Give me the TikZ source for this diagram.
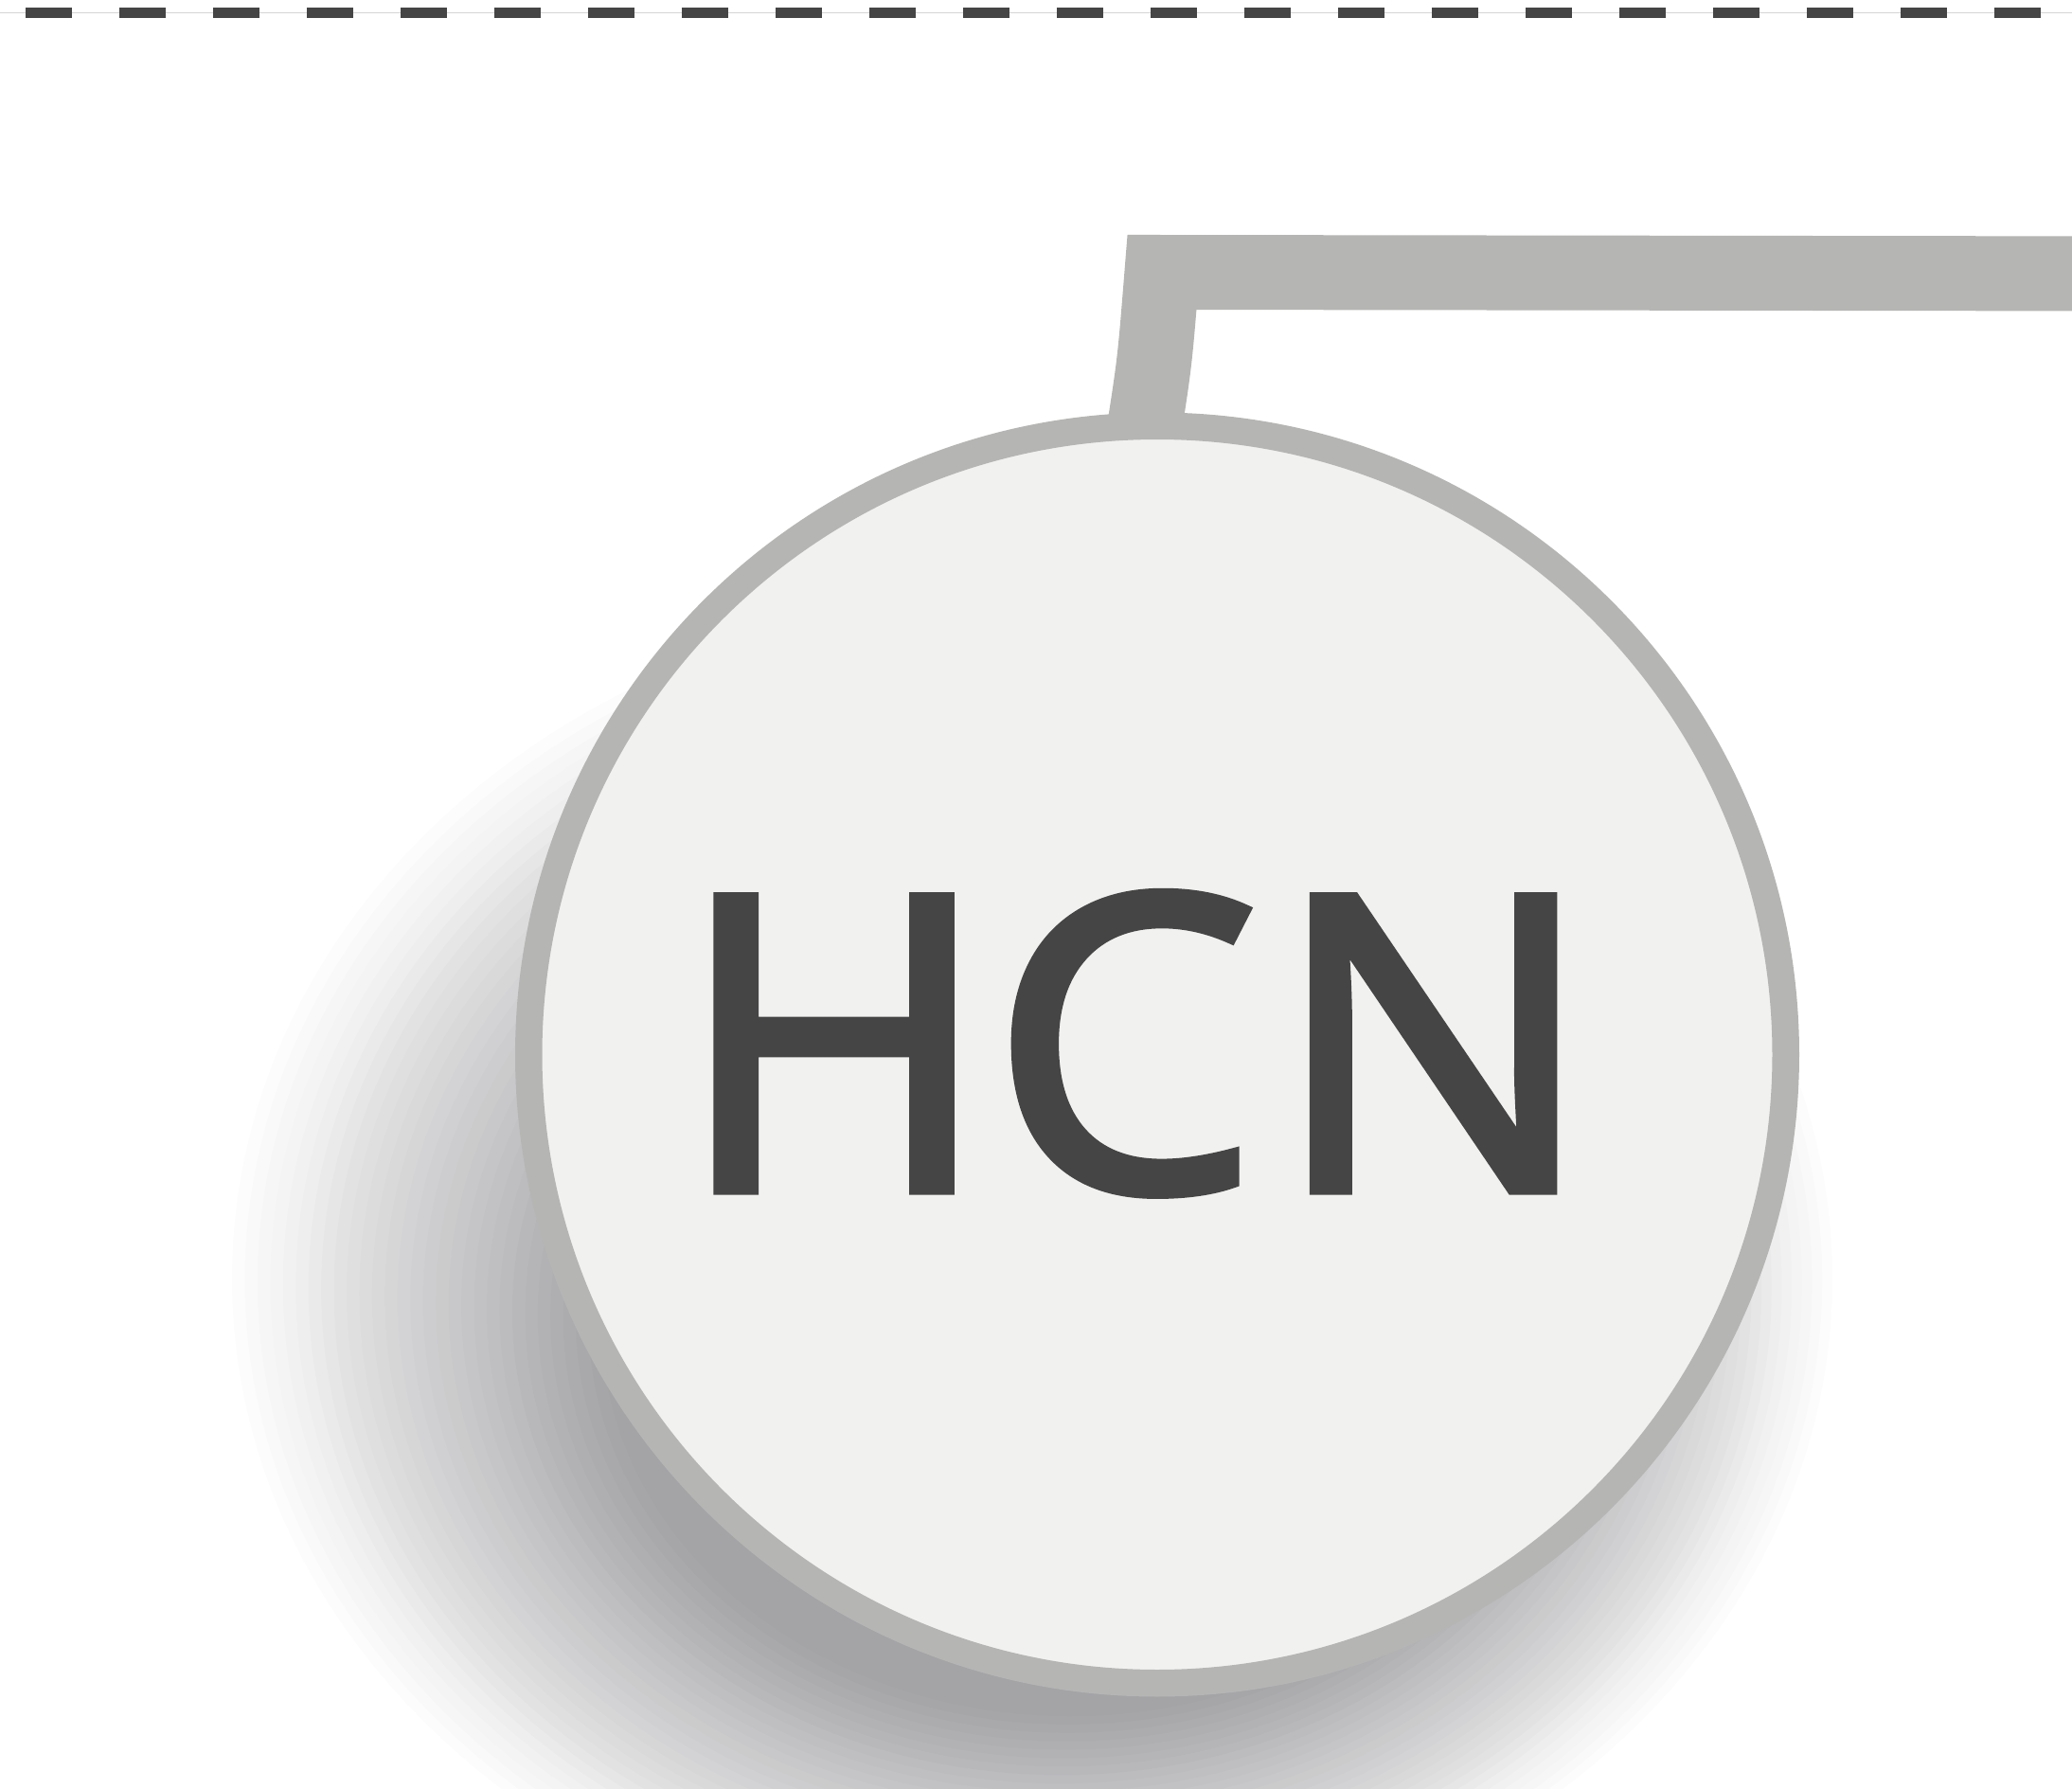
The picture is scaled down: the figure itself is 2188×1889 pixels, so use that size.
\documentclass[tikz,border=0pt]{standalone}
\usepackage{fontspec}
\setmainfont{Open Sans}
\newfontfamily\tagfont{Open Sans}[RawFeature={embolden=2.4},FakeStretch=1.04]
\usetikzlibrary{calc,backgrounds}
\definecolor{ringgray}{HTML}{B5B5B3}
\definecolor{facegray}{HTML}{F1F1EF}
\definecolor{inkgray}{HTML}{454545}
\definecolor{rulegray}{HTML}{D5D5D5}
\definecolor{shadowtone}{RGB}{12,12,20}
\begin{document}
\begin{tikzpicture}[x=0.1mm,y=-0.1mm,
  ring/.style={circle,draw=ringgray,fill=facegray,line width=2.85mm,minimum size=132.75mm,inner sep=0},
  link/.style={draw=ringgray,line width=7.9mm,line join=miter},
  tag/.style={anchor=base,inner sep=0,text=inkgray,font=\tagfont\fontsize{123.2pt}{126pt}\selectfont}]
  \useasboundingbox (0,0) rectangle (2188,1889);
  %% top rule
  \draw[rulegray,line width=0.1mm] (0,13) -- (2188,13);
  \draw[inkgray,line width=1.1mm,dash pattern=on 4.9mm off 5mm,dash phase=7.2mm] (0,13.5) -- (2188,13.5);
  %% node and label
  \node[ring] (hcn) at (1222,1113.5) {};
  \node[tag] (hcn-label) at ($(hcn.center)+(-23,143)$) {H\kern-0.4pt C\kern4.2pt N};
  \coordinate (link-bend) at (1219.5,381);
  \coordinate (link-corner) at (1227,287.5);
  \coordinate (link-end) at (2260,289);
  \begin{pgfonlayer}{background}
    % soft shadow, outer ring first
    \foreach \k in {0,...,29}{
      \pgfmathsetmacro{\t}{\k/29}
      \pgfmathsetmacro{\op}{0.0128/(1-\k*0.0128)}
      \pgfmathsetmacro{\ra}{(845-350*\t)/10}
      \pgfmathsetmacro{\rb}{(720-304*\t)/10}
      \fill[shadowtone,fill opacity=\op] ({1090+40*\t},{1350+46*\t}) ellipse [x radius=\ra mm,y radius=\rb mm];
    }
    \draw[link] ($(hcn.91)!-0.14!(link-corner)$) .. controls (link-bend) .. (link-corner) -- (link-end);
  \end{pgfonlayer}
\end{tikzpicture}
\end{document}
